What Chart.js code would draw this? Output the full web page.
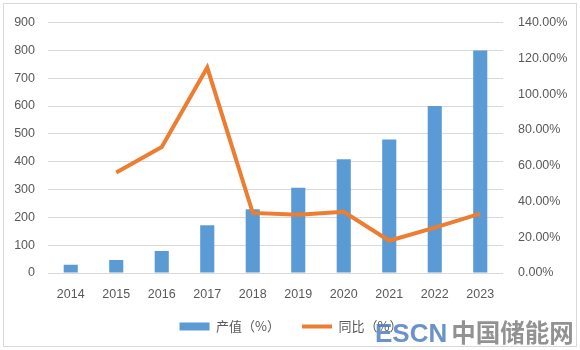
<!DOCTYPE html>
<html>
<head>
<meta charset="utf-8">
<script src="https://cdn.jsdelivr.net/npm/chart.js@4/dist/chart.umd.min.js"></script>
<style>
  html, body { margin: 0; padding: 0; background: #ffffff; }
  #wrap { position: relative; width: 580px; height: 350px; overflow: hidden; }
  #frame { position: absolute; left: 3px; top: 3px; width: 572px; height: 342px; border: 1px solid #d9d9d9; }
  canvas { position: absolute; left: 0; top: 0; }
  #mark { position: absolute; left: 375px; top: 320px; line-height: 1; white-space: nowrap; }
  #mark .en { color: rgba(70, 120, 185, 0.8); font-family: "Liberation Sans", sans-serif; font-weight: 700; font-size: 26px; }
  #mark .cn { color: rgba(110, 110, 110, 0.75); font-family: "Noto Sans CJK SC", sans-serif; font-weight: 700; font-size: 24.5px; margin-left: 4px; }
</style>
</head>
<body>
<div id="wrap">
  <div id="frame"></div>
  <canvas id="chart" width="580" height="350"></canvas>
  <div id="mark"><span class="en">ESCN</span><span class="cn">中国储能网</span></div>
</div>
<script>
// DATA
var years = ['2014', '2015', '2016', '2017', '2018', '2019', '2020', '2021', '2022', '2023'];
var output = [30, 47, 79, 172, 229, 306, 409, 480, 600, 799];
var growth = [null, 56.2, 70.4, 114.8, 33.6, 32.6, 34.2, 18.0, 25.4, 33.2];
var seriesNames = ['产值（%）', '同比（%）'];

var textColor = '#595959';
var gridColor = '#d9d9d9';
var font = { family: '"Liberation Sans", "Noto Sans CJK SC", sans-serif', size: 12.5 };

// INIT CHART
var chart = new Chart(document.getElementById('chart'), {
  type: 'bar',
  data: {
    labels: years,
    datasets: [
    {
      label: seriesNames[0],
      data: output,
      backgroundColor: '#5B9BD5',
      borderWidth: 0,
      barPercentage: 0.31,
      categoryPercentage: 1,
      yAxisID: 'y',
      order: 2
    },
    {
      type: 'line',
      label: seriesNames[1],
      data: growth,
      borderColor: '#ED7D31',
      backgroundColor: '#ED7D31',
      borderWidth: 4,
      pointRadius: 0,
      tension: 0,
      spanGaps: false,
      yAxisID: 'y1',
      order: 1
    }]
  },
  options: {
    responsive: false,
    animation: false,
    layout: { padding: { left: 10, right: 8, top: 10, bottom: 7 } },
    plugins: {
      tooltip: { enabled: false },
      legend: {
        position: 'bottom',
        labels: {
          color: textColor,
          font: { family: '"Noto Sans CJK SC", sans-serif', size: 13 },
          usePointStyle: true,
          pointStyleWidth: 30,
          boxHeight: 8,
          padding: 22,
          sort: function(a, b) { return a.datasetIndex - b.datasetIndex; },
          generateLabels: function(c) {
            var items = Chart.defaults.plugins.legend.labels.generateLabels(c);
            items.forEach(function(it) {
              if (it.datasetIndex === 0) {
                it.pointStyle = 'rect';
                it.lineWidth = 0;
                it.fillStyle = '#5B9BD5';
              } else {
                it.pointStyle = 'line';
                it.lineWidth = 4;
                it.strokeStyle = '#ED7D31';
              }
            });
            return items;
          }
        }
      }
    },
    scales: {
      x: {
        grid: { display: false },
        border: { display: false },
        ticks: { color: textColor, font: font, padding: 6, maxRotation: 0 },
        afterFit: function(s) { s.height = 25; }
      },
      y: {
        position: 'left',
        min: 0,
        max: 900,
        ticks: { stepSize: 100, color: textColor, font: font, padding: 13 },
        grid: { color: gridColor, drawTicks: false },
        border: { display: false },
        afterFit: function(s) { s.width = 38; }
      },
      y1: {
        position: 'right',
        min: 0,
        max: 140,
        ticks: {
          stepSize: 20,
          color: textColor,
          font: font,
          padding: 15,
          callback: function(v) { return v.toFixed(2) + '%'; }
        },
        grid: { drawOnChartArea: false, drawTicks: false },
        border: { display: false },
        afterFit: function(s) { s.width = 69; }
      }
    }
  }
});
</script>
</body>
</html>
